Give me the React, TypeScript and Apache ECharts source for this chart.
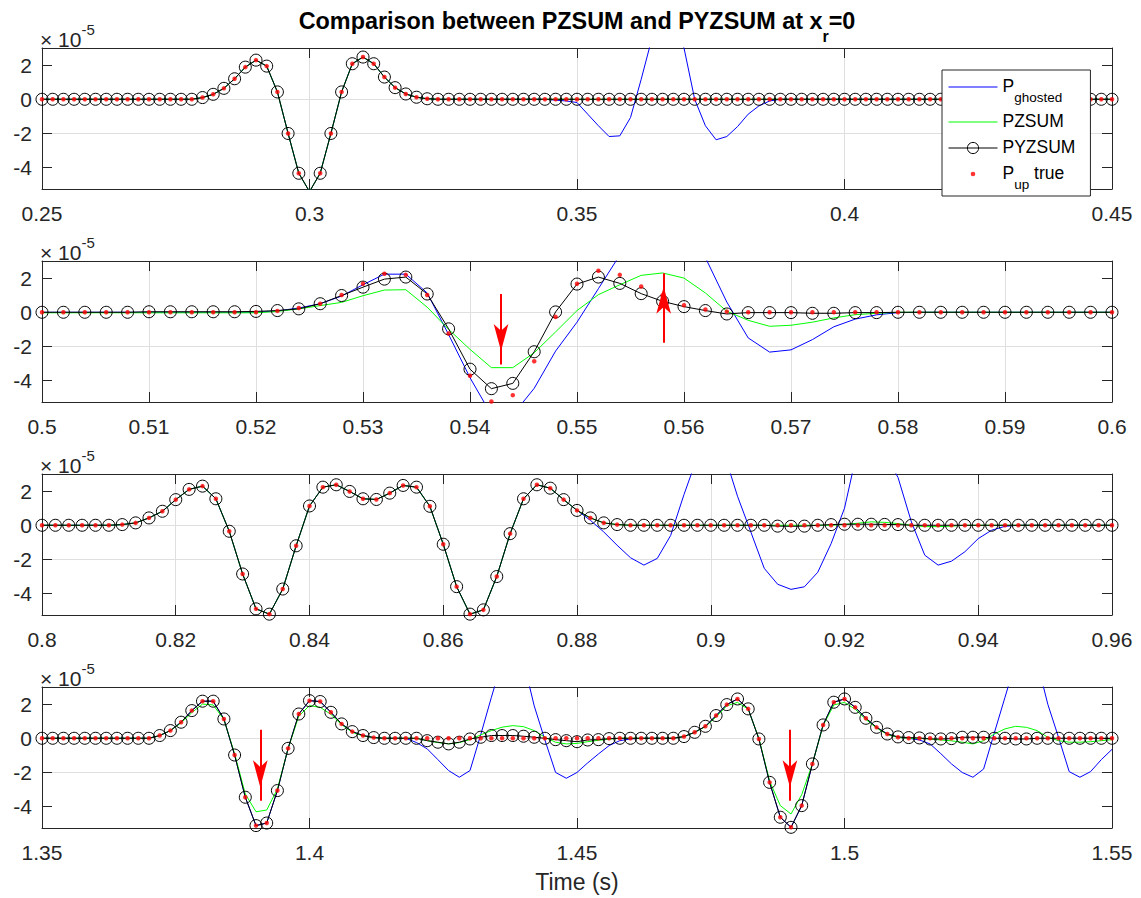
import React, { useEffect, useRef } from 'react';
import * as echarts from 'echarts';

// ---------- constants ----------
const FONT = '"Liberation Sans", Arial, Helvetica, sans-serif';
const AXIS_COLOR = '#262626';
const GRID_COLOR = '#dfdfdf';

// sample spacing (s)
const DT = 0.002;
// y limits and ticks (units of 1e-5)
const Y_MIN = -5.25;
const Y_MAX = 3;
const Y_TICKS = [-4, -2, 0, 2];

// x windows of the 4 subplots and their tick spacing
const X_WINDOWS = [
  [0.25, 0.45],
  [0.5, 0.6],
  [0.8, 0.96],
  [1.35, 1.55],
];
const X_INTERVALS = [0.05, 0.01, 0.02, 0.05];

// ---------- data (values ×1e-5), sampled every DT from window start ----------
// Panel 1 : 0.25 – 0.45 s
const pUp1 = [
  0, 0, 0, 0, 0, 0, 0, 0, 0, 0,
  0, 0, 0, 0, 0, 0.1, 0.29, 0.64, 1.2, 1.88,
  2.29, 1.94, 0.43, -2.0, -4.33, -5.4, -4.33, -2.0, 0.43, 2.08,
  2.47, 2.08, 1.3, 0.68, 0.31, 0.12, 0.03, 0, 0, 0,
  0, 0, 0, 0, 0, 0, 0, 0, 0, 0,
  0, 0, 0, 0, 0, 0, 0, 0, 0, 0,
  0, 0, 0, 0, 0, 0, 0, 0, 0, 0,
  0, 0, 0, 0, 0, 0, 0, 0, 0, 0,
  0, 0, 0, 0, 0, 0, 0, 0, 0, 0,
  0, 0, 0, 0, 0, 0, 0, 0, 0, 0,
  0,
];
const pGhosted1 = [
  0, 0, 0, 0, 0, 0, 0, 0, 0, 0,
  0, 0, 0, 0, 0, 0.1, 0.29, 0.64, 1.2, 1.88,
  2.29, 1.94, 0.43, -2.0, -4.33, -5.4, -4.33, -2.0, 0.43, 2.08,
  2.47, 2.08, 1.3, 0.68, 0.31, 0.12, 0.03, 0, 0, 0,
  0, 0, 0, 0, 0, 0, 0, 0, -0.05, -0.1,
  -0.19, -0.87, -1.55, -2.18, -2.14, -1.07, 1.17, 3.56, 4.6, 4.2,
  3.0, 0.0, -1.55, -2.37, -2.18, -1.6, -0.87, -0.39, -0.1, 0,
  0, 0, 0, 0, 0, 0, 0, 0, 0, 0,
  0, 0, 0, 0, 0, 0, 0, 0, 0, 0,
  0, 0, 0, 0, 0, 0, 0, 0, 0, 0,
  0,
];
const pzsum1 = pUp1;
const pyzsum1 = pUp1;

// Panel 2 : 0.5 – 0.6 s
const pUp2 = [
  0, 0, 0, 0, 0, 0, 0, 0, 0, 0,
  0, 0.08, 0.25, 0.5, 1.01, 1.67, 2.25, 2.19, 1.01, -1.24,
  -3.71, -5.22, -4.85, -2.87, -0.27, 1.67, 2.43, 2.19, 1.51, 1.0,
  0.41, 0.16, 0.04, 0, 0, 0, 0, 0, 0, 0,
  0, 0, 0, 0, 0, 0, 0, 0, 0, 0,
  0,
];
const pyzsum2 = [
  0, 0, 0, 0, 0, 0.03, 0.03, 0.03, 0.03, 0.03,
  0.05, 0.1, 0.2, 0.5, 0.98, 1.47, 1.94, 2.06, 1.07, -0.97,
  -3.33, -4.47, -4.16, -2.31, 0.02, 1.65, 2.06, 1.69, 1.09, 0.64,
  0.33, 0.1, -0.1, -0.02, -0.02, -0.02, -0.06, -0.06, -0.02, -0.02,
  0, 0, 0, 0, 0, 0, 0, 0, 0, 0,
  0,
];
const pzsum2 = [
  -0.03, -0.03, -0.03, -0.03, -0.03, -0.03, -0.03, -0.03, -0.03, -0.03,
  -0.03, 0.05, 0.2, 0.39, 0.58, 0.97, 1.3, 1.32, 0.3, -1.0,
  -2.17, -3.24, -3.24, -2.37, -1.15, 0.1, 1.03, 1.61, 2.16, 2.3,
  2.0, 1.13, 0.06, -0.47, -0.82, -0.76, -0.58, -0.33, -0.14, -0.06,
  0, 0, 0, 0, 0, 0, 0, 0, 0, 0,
  0,
];
const pGhosted2 = [
  0, 0, 0, 0, 0, 0, 0, 0, 0, 0,
  0, 0.08, 0.25, 0.5, 0.95, 1.61, 2.23, 2.23, 1.13, -1.3,
  -3.83, -6.0, -6.0, -4.45, -2.27, -0.58, 1.38, 3.35, 5.5, 6.0,
  5.0, 3.2, 0.6, -1.5, -2.33, -2.2, -1.6, -0.85, -0.4, -0.15,
  -0.02, 0, 0, 0, 0, 0, 0, 0, 0, 0,
  0,
];

// Panel 3 : 0.8 – 0.96 s
const pUp3 = [
  0, 0, 0, 0, 0, 0, 0.04, 0.14, 0.43, 0.82,
  1.5, 2.1, 2.29, 1.55, -0.35, -2.85, -4.89, -5.2, -3.73, -1.2,
  1.13, 2.23, 2.37, 1.98, 1.55, 1.51, 1.88, 2.33, 2.23, 1.11,
  -1.11, -3.59, -5.2, -4.95, -3.0, -0.49, 1.55, 2.37, 2.17, 1.5,
  0.87, 0.43, 0.14, 0.04, 0, 0, 0, 0, 0, 0,
  0, 0, 0, 0, 0, 0, 0, 0, 0, 0,
  0, 0, 0, 0, 0, 0, 0, 0, 0, 0,
  0, 0, 0, 0, 0, 0, 0, 0, 0, 0,
  0,
];
const pyzsum3 = [
  0, 0, 0, 0, 0, 0, 0.04, 0.14, 0.43, 0.82,
  1.5, 2.1, 2.29, 1.55, -0.35, -2.85, -4.89, -5.2, -3.73, -1.2,
  1.13, 2.23, 2.37, 1.98, 1.55, 1.51, 1.88, 2.33, 2.23, 1.11,
  -1.11, -3.59, -5.2, -4.95, -3.0, -0.49, 1.55, 2.37, 2.17, 1.5,
  0.87, 0.43, 0.14, 0.04, 0, 0, 0, 0, 0, 0,
  0, 0, 0, 0, 0, -0.05, -0.06, -0.05, 0, 0.04,
  0.06, 0.06, 0.06, 0.05, 0.04, 0, 0, 0, 0, 0,
  0, 0, 0, 0, 0, 0, 0, 0, 0, 0,
  0,
];
const pzsum3 = [
  0, 0, 0, 0, 0, 0, 0.04, 0.14, 0.43, 0.82,
  1.5, 2.1, 2.29, 1.55, -0.35, -2.85, -4.89, -5.2, -3.73, -1.2,
  1.13, 2.23, 2.37, 1.98, 1.55, 1.51, 1.88, 2.33, 2.23, 1.11,
  -1.11, -3.59, -5.2, -4.95, -3.0, -0.49, 1.55, 2.37, 2.17, 1.5,
  0.87, 0.43, 0.14, 0.04, 0, 0, 0, 0, 0, 0,
  0, 0, 0, 0, 0, 0, 0, 0, 0, 0,
  0.05, 0.12, 0.2, 0.17, 0.1, 0, -0.08, -0.08, -0.05, 0,
  0, 0, 0, 0, 0, 0, 0, 0, 0, 0,
  0,
];
const pGhosted3 = [
  0, 0, 0, 0, 0, 0, 0.04, 0.14, 0.43, 0.82,
  1.5, 2.1, 2.29, 1.55, -0.35, -2.85, -4.89, -5.2, -3.73, -1.2,
  1.13, 2.23, 2.37, 1.98, 1.55, 1.51, 1.88, 2.33, 2.23, 1.11,
  -1.11, -3.59, -5.2, -4.95, -3.0, -0.49, 1.55, 2.37, 2.17, 1.5,
  0.87, 0.29, -0.39, -1.17, -1.9, -2.33, -1.94, -0.6, 1.8, 4.0,
  5.5, 4.2, 1.7, -0.4, -2.52, -3.45, -3.75, -3.6, -2.75, -1.07,
  1.0, 4.5, 5.5, 4.2, 2.8, 0.2, -1.75, -2.33, -2.1, -1.55,
  -0.78, -0.29, -0.06, 0, 0, 0, 0, 0, 0, 0,
  0,
];

// Panel 4 : 1.35 – 1.55 s
const pUp4 = [
  0, 0, 0, 0, 0, 0, 0, 0, 0, 0,
  0, 0.16, 0.45, 0.94, 1.62, 2.17, 2.17, 1.13, -0.98, -3.45,
  -5.11, -4.96, -3.06, -0.59, 1.42, 2.2, 2.15, 1.52, 0.84, 0.39,
  0.16, 0.04, 0, 0, 0, 0, 0, 0, 0, 0,
  0, 0, 0, 0, 0, 0, 0, 0, 0, 0,
  0, 0, 0, 0, 0, 0, 0, 0, 0, 0,
  0.1, 0.35, 0.7, 1.33, 1.97, 2.3, 1.72, -0.04, -2.58, -4.62,
  -5.21, -3.94, -1.5, 0.78, 2.11, 2.3, 1.81, 1.17, 0.64, 0.25,
  0.06, 0, 0, 0, 0, 0, 0, 0, 0, 0,
  0, 0, 0, 0, 0, 0, 0, 0, 0, 0,
  0,
];
const pyzsum4 = [
  0, 0, 0, 0, 0, 0, 0, 0, 0, 0,
  0, 0.16, 0.45, 0.94, 1.62, 2.17, 2.17, 1.13, -0.98, -3.45,
  -5.11, -4.96, -3.06, -0.59, 1.42, 2.2, 2.15, 1.52, 0.84, 0.39,
  0.16, 0.04, 0, 0, 0, 0, -0.14, -0.23, -0.33, -0.23,
  -0.04, 0.06, 0.16, 0.16, 0.16, 0.12, 0.06, 0, -0.08, -0.14,
  -0.2, -0.1, -0.08, -0.02, 0, 0, 0, 0, 0, 0,
  0.1, 0.35, 0.7, 1.33, 1.97, 2.3, 1.72, -0.04, -2.58, -4.62,
  -5.21, -3.94, -1.5, 0.78, 2.11, 2.3, 1.81, 1.17, 0.64, 0.25,
  0.08, 0.04, 0.02, -0.04, -0.04, -0.02, 0.06, 0.06, 0.06, 0,
  0, -0.04, -0.04, 0, 0, 0, 0, 0, 0, 0,
  0,
];
const pzsum4 = [
  0, 0, 0, 0, 0, 0, 0, 0, 0, 0,
  0, 0.16, 0.45, 0.9, 1.5, 2.0, 1.95, 1.1, -0.9, -3.26,
  -4.3, -4.2, -2.97, -0.6, 1.3, 1.91, 1.81, 1.4, 0.8, 0.35,
  0.14, 0.04, 0, 0, 0, 0, -0.14, -0.25, -0.33, -0.25,
  -0.08, 0.2, 0.45, 0.65, 0.74, 0.68, 0.45, 0.06, -0.23, -0.33,
  -0.3, -0.2, -0.12, -0.05, 0, 0, 0, 0, 0, 0,
  0.1, 0.35, 0.68, 1.25, 1.9, 2.1, 1.7, 0, -2.5, -3.94,
  -4.43, -3.3, -1.5, 0.75, 1.95, 2.1, 1.7, 1.1, 0.6, 0.22,
  0.05, 0, 0, -0.04, -0.1, -0.15, -0.23, -0.33, -0.14, 0.25,
  0.55, 0.7, 0.64, 0.45, 0.06, -0.14, -0.23, -0.23, -0.2, -0.14,
  -0.08,
];
const pGhosted4 = [
  0, 0, 0, 0, 0, 0, 0, 0, 0, 0,
  0, 0.16, 0.45, 0.94, 1.62, 2.17, 2.17, 1.13, -0.98, -3.45,
  -5.11, -4.96, -3.06, -0.59, 1.42, 2.2, 2.15, 1.52, 0.84, 0.39,
  0.16, 0.04, 0, 0, 0, -0.25, -0.62, -1.25, -1.89, -2.28,
  -1.89, 0.2, 2.4, 4.5, 5.5, 4.5, 1.9, -0.1, -2.0, -2.34,
  -2.0, -1.44, -0.92, -0.43, -0.14, -0.04, 0, 0, 0, 0,
  0.1, 0.35, 0.7, 1.33, 1.97, 2.3, 1.72, -0.04, -2.58, -4.62,
  -5.21, -3.94, -1.5, 0.78, 2.11, 2.3, 1.81, 1.17, 0.64, 0.25,
  0.06, 0, -0.1, -0.33, -0.9, -1.5, -2.0, -2.28, -1.8, 0.31,
  2.4, 4.5, 5.5, 4.5, 1.99, 0.06, -1.95, -2.28, -1.95, -1.25,
  -0.65,
];

// red arrows: [time, from, to]
const ARROWS_2 = [
  [0.5429, 1.07, -3.05],
  [0.5581, -1.79, 2.29],
];
const ARROWS_4 = [
  [1.3908, 0.5, -3.65],
  [1.4898, 0.5, -3.65],
];

// ---------- layout ----------
const GRID_TOPS = [48, 261, 474, 687];
const GRID_H = 141;
const GRID_LEFT = 42;
const GRID_RIGHT = 29;
const TICK_FONT = 21;

const LINE_ICON = 'path://M0,0M49,14M0,6.5L49,6.5L49,7.5L0,7.5Z';
const DOT_ICON = 'path://M0,0M49,14M22.2,7A2.3,2.3,0,1,0,26.8,7A2.3,2.3,0,1,0,22.2,7Z';

const PANELS = [
  { gh: pGhosted1, pz: pzsum1, pyz: pyzsum1, up: pUp1, arrows: [] as number[][] },
  { gh: pGhosted2, pz: pzsum2, pyz: pyzsum2, up: pUp2, arrows: ARROWS_2 },
  { gh: pGhosted3, pz: pzsum3, pyz: pyzsum3, up: pUp3, arrows: [] as number[][] },
  { gh: pGhosted4, pz: pzsum4, pyz: pyzsum4, up: pUp4, arrows: ARROWS_4 },
];

function toXY(values: number[], t0: number) {
  return values.map((v, i) => [Number((t0 + i * DT).toFixed(4)), v]);
}

function buildOption() {
  const grids: any[] = [];
  const xAxes: any[] = [];
  const yAxes: any[] = [];
  const series: any[] = [];

  PANELS.forEach((p, i) => {
    const [x0, x1] = X_WINDOWS[i];
    grids.push({
      left: GRID_LEFT,
      right: GRID_RIGHT,
      top: GRID_TOPS[i],
      height: GRID_H,
      show: false,
      outerBoundsMode: 'none',
    });
    const lastPanel = i === PANELS.length - 1;
    xAxes.push({
      type: 'value',
      gridIndex: i,
      position: 'bottom',
      min: x0,
      max: x1,
      interval: X_INTERVALS[i],
      axisLine: { show: true, onZero: false, lineStyle: { color: AXIS_COLOR, width: 1 } },
      axisTick: { show: true, inside: true, length: 10, lineStyle: { color: AXIS_COLOR, width: 1 } },
      axisLabel: {
        show: true,
        margin: 14,
        fontSize: TICK_FONT,
        fontFamily: FONT,
        color: AXIS_COLOR,
        formatter: (v: number) => String(Number(v.toFixed(4))),
      },
      splitLine: { show: true, showMinLine: false, showMaxLine: false, lineStyle: { color: GRID_COLOR, width: 1 } },
      name: lastPanel ? 'Time (s)' : '',
      nameLocation: 'middle',
      nameGap: 42,
      nameTextStyle: { fontSize: 23, fontFamily: FONT, color: AXIS_COLOR },
      z: 1,
    });
    xAxes.push({
      type: 'value',
      gridIndex: i,
      position: 'top',
      min: x0,
      max: x1,
      interval: X_INTERVALS[i],
      axisLine: { show: true, onZero: false, lineStyle: { color: AXIS_COLOR, width: 1 } },
      axisTick: { show: true, inside: true, length: 10, lineStyle: { color: AXIS_COLOR, width: 1 } },
      axisLabel: { show: false },
      splitLine: { show: false },
      z: 1,
    });
    yAxes.push({
      type: 'value',
      gridIndex: i,
      position: 'left',
      min: Y_MIN,
      max: Y_MAX,
      axisLine: { show: true, onZero: false, lineStyle: { color: AXIS_COLOR, width: 1 } },
      axisTick: { show: true, inside: true, length: 10, customValues: Y_TICKS, lineStyle: { color: AXIS_COLOR, width: 1 } },
      axisLabel: {
        show: true,
        margin: 10,
        fontSize: TICK_FONT,
        fontFamily: FONT,
        color: AXIS_COLOR,
        customValues: Y_TICKS,
        formatter: (v: number) => (Y_TICKS.indexOf(v) >= 0 ? String(v) : ''),
      },
      splitLine: { show: true, showMinLine: false, showMaxLine: false, lineStyle: { color: GRID_COLOR, width: 1 } },
      name: '{b|× 10}{sup|-5}',
      nameLocation: 'end',
      nameGap: 5,
      nameTextStyle: {
        align: 'left',
        verticalAlign: 'bottom',
        fontFamily: FONT,
        color: AXIS_COLOR,
        padding: [0, 0, 0, -2],
        rich: {
          b: { fontSize: 21, lineHeight: 21, padding: [7, 0, 0, 0], verticalAlign: 'top', fontFamily: FONT, color: AXIS_COLOR },
          sup: { fontSize: 15, lineHeight: 15, verticalAlign: 'top', fontFamily: FONT, color: AXIS_COLOR },
        },
      },
      z: 1,
    });
    yAxes.push({
      type: 'value',
      gridIndex: i,
      position: 'right',
      min: Y_MIN,
      max: Y_MAX,
      axisLine: { show: true, onZero: false, lineStyle: { color: AXIS_COLOR, width: 1 } },
      axisTick: { show: true, inside: true, length: 10, customValues: Y_TICKS, lineStyle: { color: AXIS_COLOR, width: 1 } },
      axisLabel: { show: false },
      splitLine: { show: false },
      z: 1,
    });

    const t0 = x0;
    const common = { xAxisIndex: 2 * i, yAxisIndex: 2 * i, silent: true, clip: true, legendHoverLink: false };
    series.push({
      ...common,
      type: 'line',
      name: 'Pghosted',
      data: toXY(p.gh, t0),
      symbol: 'none',
      color: '#0000ff',
      lineStyle: { color: '#0000ff', width: 1 },
      z: 2,
    });
    series.push({
      ...common,
      type: 'line',
      name: 'PZSUM',
      data: toXY(p.pz, t0),
      symbol: 'none',
      color: '#00ff00',
      lineStyle: { color: '#00ff00', width: 1 },
      z: 2,
    });
    series.push({
      ...common,
      type: 'line',
      name: 'PYZSUM',
      data: toXY(p.pyz, t0),
      symbol: 'circle',
      symbolSize: 12,
      showSymbol: true,
      showAllSymbol: true,
      itemStyle: { color: 'rgba(0,0,0,0)', borderColor: '#000000', borderWidth: 1 },
      lineStyle: { color: '#000000', width: 1 },
      z: 2,
    });
    const redSeries: any = {
      ...common,
      type: 'scatter',
      name: 'Pup true',
      data: toXY(p.up, t0),
      symbol: 'circle',
      symbolSize: 4.5,
      itemStyle: { color: '#ff0000' },
      z: 2,
    };
    if (p.arrows.length) {
      redSeries.markLine = {
        silent: true,
        animation: false,
        symbol: ['none', 'arrow'],
        symbolSize: [11, 27],
        symbolOffset: [0, [0, 13.5]],
        label: { show: false },
        lineStyle: { color: '#ff0000', width: 2, type: 'solid' },
        emphasis: { disabled: true },
        data: p.arrows.map((a) => [{ coord: [a[0], a[1]] }, { coord: [a[0], a[2]] }]),
      };
    }
    series.push(redSeries);
  });

  return {
    animation: false,
    backgroundColor: '#ffffff',
    textStyle: { fontFamily: FONT },
    title: {
      text: '{t|Comparison between PZSUM and PYZSUM at x}{r|r}{t|=0}',
      left: 577,
      top: 0,
      padding: 0,
      textAlign: 'center',
      textStyle: {
        fontFamily: FONT,
        fontWeight: 'bold',
        fontSize: 23.4,
        color: '#000000',
        rich: {
          t: { fontSize: 23.4, fontWeight: 'bold', fontFamily: FONT, color: '#000', lineHeight: 42, verticalAlign: 'middle' },
          r: { fontSize: 16, fontWeight: 'bold', fontFamily: FONT, color: '#000', lineHeight: 16, padding: [28, 0, 0, 0], verticalAlign: 'top' },
        },
      },
    },
    legend: {
      orient: 'vertical',
      align: 'left',
      left: 942,
      top: 70,
      padding: [7, 15, 5, 6],
      itemGap: 8,
      itemWidth: 49,
      itemHeight: 14,
      backgroundColor: '#ffffff',
      borderColor: AXIS_COLOR,
      borderWidth: 1,
      borderRadius: 0,
      selectedMode: false,
      lineStyle: { width: 1 },
      textStyle: {
        fontFamily: FONT,
        fontSize: 17,
        color: '#000000',
        rich: {
          m: { fontSize: 17.5, lineHeight: 20, verticalAlign: 'top', fontFamily: FONT, color: '#000' },
          s: { fontSize: 13.5, lineHeight: 13, padding: [13, 0, 0, 0], verticalAlign: 'top', fontFamily: FONT, color: '#000' },
        },
      },
      formatter: (name: string) => {
        if (name === 'Pghosted') return '{m|P}{s|ghosted}';
        if (name === 'Pup true') return '{m|P}{s|up}{m|\u00a0true}';
        return '{m|' + name + '}';
      },
      data: [
        { name: 'Pghosted', icon: LINE_ICON, itemStyle: { color: '#0000ff', borderWidth: 0 } },
        { name: 'PZSUM', icon: LINE_ICON, itemStyle: { color: '#00ff00', borderWidth: 0 } },
        {
          name: 'PYZSUM',
          itemStyle: { color: 'rgba(0,0,0,0)', borderColor: '#000000', borderWidth: 1 },
          lineStyle: { color: '#000000', width: 1 },
        },
        { name: 'Pup true', icon: DOT_ICON, itemStyle: { color: '#ff0000', borderWidth: 0 } },
      ],
      z: 10,
    },
    grid: grids,
    xAxis: xAxes,
    yAxis: yAxes,
    series,
  };
}

export default function App() {
  const ref = useRef<HTMLDivElement>(null);
  useEffect(() => {
    if (!ref.current) return;
    const chart = echarts.init(ref.current, null, { renderer: 'svg' });
    chart.setOption(buildOption() as any);
    return () => {
      chart.dispose();
    };
  }, []);
  return (
    <div
      ref={ref}
      style={{ position: 'fixed', left: 0, top: 0, width: 1141, height: 898, background: '#ffffff' }}
    />
  );
}
